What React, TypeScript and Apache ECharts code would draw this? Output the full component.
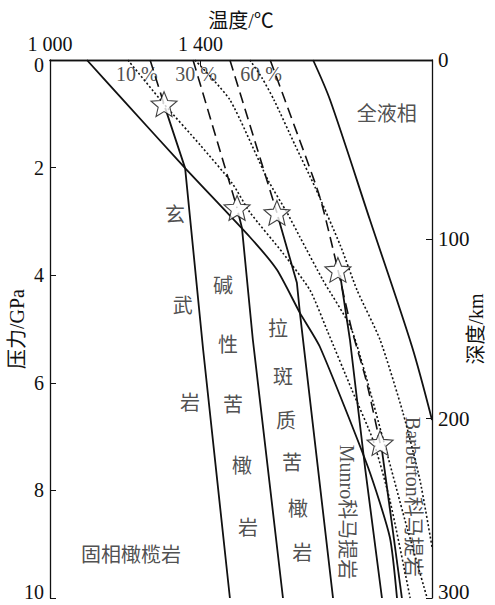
import React, { useEffect, useRef } from "react";
import * as echarts from "echarts";

// ---- data (temperature °C, pressure GPa) ----
const solidusT = [1098, 1194, 1359, 1531, 1603, 1664, 1717, 1845, 1903, 1922];
const solidusP = [0, 0.74, 2.01, 3.29, 3.9, 4.7, 5.33, 7.57, 8.87, 10];

const liquidusT = [1699, 1744, 1850, 1962, 2015];
const liquidusP = [0, 0.74, 2.97, 5.33, 6.69];

const basaltT = [1306, 1359, 1407, 1478];
const basaltP = [0.89, 2.01, 5.39, 10];

const alkaliT = [1500, 1510, 1539, 1619];
const alkaliP = [2.84, 3.12, 5.2, 10];

const tholeiiticT = [1606, 1656, 1664, 1752];
const tholeiiticP = [2.92, 4.14, 4.7, 10];

const munroT = [1771, 1797, 1837, 1882];
const munroP = [4.0, 5.2, 7.57, 10];

const barbertonT = [1882, 1935];
const barbertonP = [7.25, 10];

const melt10T = [1207, 1303, 1399, 1484, 1531, 1619, 1691, 1736, 1802, 1858, 1903, 1957];
const melt10P = [0, 0.82, 1.58, 2.29, 2.83, 3.59, 4.28, 5.02, 6.13, 7.06, 8.18, 10];

const melt30T = [1385, 1478, 1579, 1630, 1664, 1725, 1802, 1893, 1943, 2002];
const melt30P = [0, 0.74, 2.23, 2.84, 3.29, 4.09, 5.02, 7.25, 8.55, 10];

const melt60T = [1531, 1563, 1595, 1651, 1704, 1771, 1816, 1877, 1938, 1983, 2015];
const melt60P = [0, 0.33, 0.74, 1.58, 2.36, 3.44, 4.28, 5.2, 6.56, 7.81, 9.05];

const adiabat1T = [1266, 1303];
const adiabat1P = [0, 0.82];
const adiabat2T = [1380, 1497];
const adiabat2P = [0, 2.75];
const adiabat3T = [1478, 1603];
const adiabat3P = [0, 2.84];
const adiabat4T = [1585, 1624, 1717, 1765, 1802, 1840, 1877];
const adiabat4P = [0, 0.74, 2.55, 3.9, 5.02, 5.95, 7.12];

const starT = [1303, 1497, 1603, 1765, 1877];
const starP = [0.82, 2.75, 2.84, 3.9, 7.12];

const tempTicks = [1000, 1400, 1800];

// annotation texts
const notes: { text: string; t: number; p: number; rotate?: number }[] = [
  { text: "10 %", t: 1231, p: 0.26 },
  { text: "30 %", t: 1388, p: 0.26 },
  { text: "60 %", t: 1561, p: 0.26 },
  { text: "全液相", t: 1895, p: 1.0 },
  { text: "玄", t: 1332, p: 2.88 },
  { text: "武", t: 1353, p: 4.57 },
  { text: "岩", t: 1372, p: 6.38 },
  { text: "碱", t: 1460, p: 4.2 },
  { text: "性", t: 1473, p: 5.3 },
  { text: "苦", t: 1486, p: 6.41 },
  { text: "橄", t: 1510, p: 7.55 },
  { text: "岩", t: 1526, p: 8.7 },
  { text: "拉", t: 1606, p: 5.0 },
  { text: "斑", t: 1619, p: 5.89 },
  { text: "质", t: 1627, p: 6.71 },
  { text: "苦", t: 1643, p: 7.49 },
  { text: "橄", t: 1659, p: 8.35 },
  { text: "岩", t: 1670, p: 9.16 },
  { text: "Munro科马提岩", t: 1790, p: 8.4, rotate: -90 },
  { text: "Barberton科马提岩", t: 1965, p: 8.12, rotate: -90 },
  { text: "固相橄榄岩", t: 1215, p: 9.2 },
];

const FONT = '"Liberation Serif", "Noto Sans CJK SC", serif';
const STAR =
  "path://M50 0 L63.23 31.8 L97.55 34.55 L71.4 56.95 L79.39 90.45 L50 72.5 L20.61 90.45 L28.6 56.95 L2.45 34.55 L36.77 31.8 Z";

const pairs = (t: number[], p: number[]) => t.map((v, i) => [v, p[i]]);

function lineSeries(t: number[], p: number[], type: "solid" | "dashed" | "dotted", smooth = 0) {
  const style: any = { color: "#111", width: type === "solid" ? 1.8 : 1.6 };
  if (type === "dashed") style.type = [11, 6];
  else if (type === "dotted") style.type = [2, 2.2];
  else style.type = "solid";
  return {
    type: "line",
    xAxisIndex: 0,
    yAxisIndex: 0,
    data: pairs(t, p),
    showSymbol: false,
    smooth,
    lineStyle: style,
    silent: true,
    z: 2,
  };
}

export default function App() {
  const ref = useRef<HTMLDivElement>(null);
  useEffect(() => {
    document.body.style.margin = "0";
    const chart = echarts.init(ref.current!, undefined, { renderer: "svg" });
    const axisLine = { show: true, lineStyle: { color: "#111", width: 1.3 } };
    const option: any = {
      animation: false,
      backgroundColor: "#fff",
      grid: { left: 50, right: 63, top: 60, bottom: 7, containLabel: false, outerBoundsMode: "none" },
      xAxis: [
        {
          type: "value",
          position: "top",
          min: 1000,
          max: 2015,
          interval: 400,
          axisLine,
          axisTick: { show: true, inside: true, length: 6, customValues: tempTicks, lineStyle: { color: "#111" } },
          axisLabel: {
            customValues: tempTicks,
            showMaxLabel: false,
            formatter: (v: number) => String(v).replace(/(\d)(\d{3})$/, "$1 $2"),
            fontSize: 20,
            lineHeight: 14,
            color: "#111",
            fontFamily: FONT,
            margin: 9,
          },
          splitLine: { show: false },
          name: "温度/℃",
          nameLocation: "middle",
          nameGap: 29,
          nameMoveOverlap: false,
          nameTextStyle: { fontSize: 20, color: "#111", fontFamily: FONT },
        },
        {
          type: "value",
          position: "bottom",
          min: 1000,
          max: 2015,
          axisLine,
          axisTick: { show: false },
          axisLabel: { show: false },
          splitLine: { show: false },
        },
      ],
      yAxis: [
        {
          type: "value",
          position: "left",
          inverse: true,
          min: 0,
          max: 10,
          interval: 2,
          axisLine,
          axisTick: { show: true, inside: true, length: 6, lineStyle: { color: "#111" } },
          axisLabel: {
            fontSize: 20,
            lineHeight: 14,
            color: "#111",
            fontFamily: FONT,
            margin: 6,
            formatter: (v: number) => (v === 0 ? "{z|0}" : v === 10 ? "{b|10}" : String(v)),
            rich: {
              z: { fontSize: 20, fontFamily: FONT, color: "#111", padding: [10, 0, 0, 0] },
              b: { fontSize: 20, fontFamily: FONT, color: "#111", padding: [0, 0, 12, 0] },
            },
          },
          splitLine: { show: false },
          name: "压力/GPa",
          nameLocation: "middle",
          nameGap: 23,
          nameRotate: 90,
          nameMoveOverlap: false,
          nameTextStyle: { fontSize: 20, color: "#111", fontFamily: FONT },
        },
        {
          type: "value",
          position: "right",
          inverse: true,
          min: 0,
          max: 300,
          interval: 100,
          axisLine,
          axisTick: { show: true, inside: true, length: 6, lineStyle: { color: "#111" } },
          axisLabel: {
            fontSize: 21,
            lineHeight: 15,
            color: "#111",
            fontFamily: FONT,
            margin: 6,
            formatter: (v: number) => (v === 300 ? "{b|300}" : String(v)),
            rich: { b: { fontSize: 21, fontFamily: FONT, color: "#111", padding: [0, 0, 12, 0] } },
          },
          splitLine: { show: false },
          name: "深度/km",
          nameLocation: "middle",
          nameGap: 34,
          nameRotate: 90,
          nameMoveOverlap: false,
          nameTextStyle: { fontSize: 20, color: "#111", fontFamily: FONT },
        },
      ],
      series: [
        lineSeries(solidusT, solidusP, "solid", 0.2),
        lineSeries(liquidusT, liquidusP, "solid", 0.3),
        lineSeries(basaltT, basaltP, "solid"),
        lineSeries(alkaliT, alkaliP, "solid"),
        lineSeries(tholeiiticT, tholeiiticP, "solid"),
        lineSeries(munroT, munroP, "solid"),
        lineSeries(barbertonT, barbertonP, "solid"),
        lineSeries(melt10T, melt10P, "dotted", 0.2),
        lineSeries(melt30T, melt30P, "dotted", 0.2),
        lineSeries(melt60T, melt60P, "dotted", 0.2),
        lineSeries(adiabat1T, adiabat1P, "dashed"),
        lineSeries(adiabat2T, adiabat2P, "dashed"),
        lineSeries(adiabat3T, adiabat3P, "dashed"),
        lineSeries(adiabat4T, adiabat4P, "dashed", 0.2),
        {
          type: "scatter",
          xAxisIndex: 0,
          yAxisIndex: 0,
          data: pairs(starT, starP),
          symbol: STAR,
          symbolKeepAspect: true,
          symbolSize: 26,
          itemStyle: { color: "#fff", borderColor: "#111", borderWidth: 1.1 },
          z: 5,
          silent: true,
        },
        {
          type: "scatter",
          xAxisIndex: 0,
          yAxisIndex: 0,
          symbolSize: 0,
          silent: true,
          z: 6,
          data: notes.map((n) => ({
            value: [n.t, n.p],
            label: {
              show: true,
              position: "inside",
              formatter: n.text,
              rotate: n.rotate ?? 0,
              fontSize: 20,
              color: "#222",
              fontFamily: FONT,
            },
          })),
        },
      ],
    };
    chart.setOption(option);
    return () => chart.dispose();
  }, []);
  return <div ref={ref} style={{ width: 495, height: 605 }} />;
}
